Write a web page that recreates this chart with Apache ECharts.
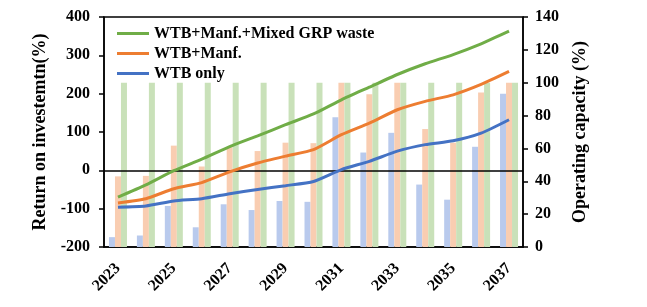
<!DOCTYPE html>
<html>
<head>
<meta charset="utf-8">
<script src="https://cdn.jsdelivr.net/npm/echarts@6/dist/echarts.min.js"></script>
<style>
html,body{margin:0;padding:0;background:#fff;}
#c{width:647px;height:307px;}
</style>
</head>
<body>
<div id="c"></div>
<script>
var years = ['2023','2024','2025','2026','2027','2028','2029','2030','2031','2032','2033','2034','2035','2036','2037'];
// Return on investment (%), left axis
var roiMixed = [-70, -38, -1, 29, 62, 90, 119, 147, 184, 217, 250, 278, 302, 330, 363];
var roiManf  = [-85, -74, -48, -32, -4, 19, 37, 54, 93, 123, 158, 180, 197, 224, 258];
var roiWTB   = [-96, -93, -80, -74, -61, -50, -40, -29, 2, 23.5, 50, 67, 77, 97, 132];
// Operating capacity (%), right axis
var capWTB   = [6, 7, 25, 12, 26, 22.5, 28, 27.5, 79, 57.5, 69.5, 38, 28.8, 61, 93.3];
var capManf  = [43, 43.3, 61.7, 49, 60.7, 58.4, 63.5, 63.2, 100, 93, 100, 71.8, 63.5, 94, 100];
var capMixed = [100, 100, 100, 100, 100, 100, 100, 100, 100, 100, 100, 100, 100, 100, 100];
var names = ['WTB+Manf.+Mixed GRP waste', 'WTB+Manf.', 'WTB only'];

var FONT = '"Liberation Serif", "Times New Roman", serif';
var chart = echarts.init(document.getElementById('c'), null, {renderer: 'canvas'});
var lbl = {fontFamily: FONT, fontWeight: 'bold', fontSize: 16, color: '#000'};

chart.setOption({
  animation: false,
  grid: {left: 104, right: 124, top: 17, bottom: 60, show: true, borderColor: '#000', borderWidth: 1.5, backgroundColor: 'transparent'},
  legend: {
    data: names, orient: 'vertical', left: 112, top: 20,
    icon: 'rect', itemWidth: 32, itemHeight: 3, itemGap: 3,
    textStyle: {fontFamily: FONT, fontWeight: 'bold', fontSize: 16, color: '#000', lineHeight: 17}
  },
  xAxis: {
    type: 'category', data: years, boundaryGap: true,
    axisLine: {onZero: false, lineStyle: {color: '#000', width: 1.5}},
    axisTick: {show: false},
    axisLabel: Object.assign({rotate: 45, interval: 1, margin: 19}, lbl),
    splitLine: {show: false}
  },
  yAxis: [{
    type: 'value', min: -200, max: 400, interval: 100, position: 'left',
    name: 'Return on investemtn(%)', nameLocation: 'middle', nameGap: 46,
    nameTextStyle: {fontFamily: FONT, fontWeight: 'bold', fontSize: 18, color: '#000'},
    axisLine: {show: true, lineStyle: {color: '#000', width: 1.5}},
    axisTick: {show: true, inside: false, length: 5, lineStyle: {color: '#000', width: 1.5}},
    axisLabel: Object.assign({margin: 14}, lbl),
    splitLine: {show: false}
  }, {
    type: 'value', min: 0, max: 140, interval: 20, position: 'right',
    name: 'Operating capacity (%)', nameLocation: 'middle', nameGap: 48,
    nameTextStyle: {fontFamily: FONT, fontWeight: 'bold', fontSize: 18, color: '#000'},
    axisLine: {show: true, lineStyle: {color: '#000', width: 1.5}},
    axisTick: {show: true, inside: false, length: 5, lineStyle: {color: '#000', width: 1.5}},
    axisLabel: Object.assign({margin: 12}, lbl),
    splitLine: {show: false}
  }],
  series: [
    {name: 'capWTB', type: 'bar', yAxisIndex: 1, data: capWTB, barWidth: 6, barGap: '0%', itemStyle: {color: '#b9caed'}, z: 1},
    {name: 'capManf', type: 'bar', yAxisIndex: 1, data: capManf, barWidth: 6, barGap: '0%', itemStyle: {color: '#f9cdb1'}, z: 1},
    {name: 'capMixed', type: 'bar', yAxisIndex: 1, data: capMixed, barWidth: 6, barGap: '0%', itemStyle: {color: '#c9e1b9'}, z: 1},
    {name: names[0], type: 'line', yAxisIndex: 0, data: roiMixed, symbol: 'none', smooth: 0.2,
      lineStyle: {color: '#70ad47', width: 3}, itemStyle: {color: '#70ad47'}, z: 5,
      markLine: {silent: true, symbol: 'none', label: {show: false},
        lineStyle: {color: '#000', width: 1.5, type: 'solid'}, data: [{yAxis: 0}]}},
    {name: names[1], type: 'line', yAxisIndex: 0, data: roiManf, symbol: 'none', smooth: 0.2,
      lineStyle: {color: '#ed7d31', width: 3}, itemStyle: {color: '#ed7d31'}, z: 5},
    {name: names[2], type: 'line', yAxisIndex: 0, data: roiWTB, symbol: 'none', smooth: 0.2,
      lineStyle: {color: '#4472c4', width: 3}, itemStyle: {color: '#4472c4'}, z: 5}
  ]
});
</script>
</body>
</html>
